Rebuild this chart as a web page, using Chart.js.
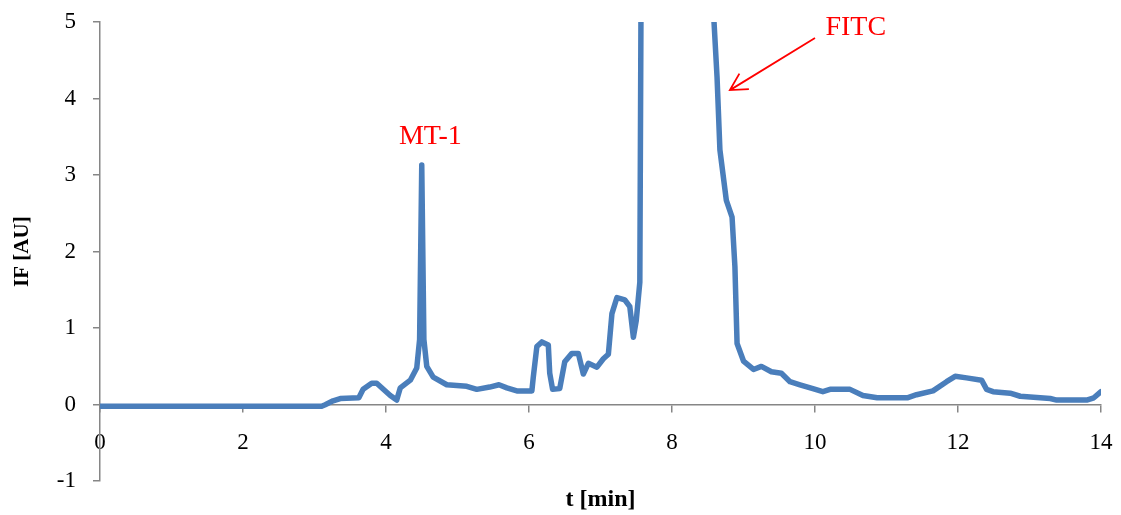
<!DOCTYPE html>
<html>
<head>
<meta charset="utf-8">
<script src="https://cdn.jsdelivr.net/npm/chart.js@4.4.0/dist/chart.umd.min.js"></script>
<style>
  html, body { margin: 0; padding: 0; background: #ffffff; }
  #wrap { width: 1121px; height: 515px; position: relative; }
</style>
</head>
<body>
<div id="wrap"><canvas id="c" width="1121" height="515"></canvas></div>
<script>
// Time (min)
const times = [0, 3.1, 3.15, 3.26, 3.36, 3.62, 3.68, 3.8, 3.87, 4.06, 4.15, 4.2, 4.34, 4.43, 4.47, 4.5, 4.53, 4.57, 4.66, 4.85,
  5.13, 5.27, 5.45, 5.58, 5.69, 5.83, 6.04, 6.06, 6.11, 6.18, 6.27, 6.29, 6.33, 6.43, 6.5, 6.6, 6.69, 6.76, 6.83, 6.95,
  7.04, 7.11, 7.16, 7.23, 7.34, 7.41, 7.46, 7.5, 7.55, 7.57, 8.0, 8.57, 8.63, 8.67, 8.76, 8.84, 8.88, 8.91, 9.0, 9.14,
  9.25, 9.39, 9.53, 9.65, 9.79, 9.97, 10.11, 10.21, 10.49, 10.67, 10.87, 11.29, 11.42, 11.65, 11.84, 11.96, 12.12, 12.33,
  12.4, 12.49, 12.73, 12.87, 13.29, 13.38, 13.8, 13.9, 14.0];
// Fluorescence intensity (AU)
const intensity = [-0.02, -0.02, 0.0, 0.05, 0.08, 0.09, 0.2, 0.28, 0.28, 0.12, 0.06, 0.22, 0.32, 0.48, 0.85, 3.13, 0.85, 0.5, 0.36, 0.26,
  0.24, 0.2, 0.23, 0.26, 0.22, 0.18, 0.18, 0.36, 0.76, 0.82, 0.78, 0.41, 0.2, 0.21, 0.56, 0.67, 0.67, 0.4, 0.54, 0.49,
  0.6, 0.66, 1.19, 1.4, 1.37, 1.28, 0.88, 1.1, 1.6, 6, 15, 5.3, 4.28, 3.33, 2.67, 2.45, 1.8, 0.8, 0.57, 0.46,
  0.5, 0.43, 0.41, 0.3, 0.26, 0.21, 0.17, 0.2, 0.2, 0.12, 0.09, 0.09, 0.13, 0.18, 0.3, 0.37, 0.35, 0.32,
  0.2, 0.17, 0.15, 0.11, 0.08, 0.06, 0.06, 0.09, 0.17];
const xTicks = [0, 2, 4, 6, 8, 10, 12, 14];
const yTicks = [-1, 0, 1, 2, 3, 4, 5];
const labels = [
  { text: 'MT-1', x: 4.62, y: 3.50 },
  { text: 'FITC', x: 10.57, y: 4.92 }
];
const arrow = { fromX: 10.0, fromY: 4.79, toX: 8.81, toY: 4.11 };

const points = times.map((t, i) => ({ x: t, y: intensity[i] }));
const axisGray = '#868686';
const serif = '"Liberation Serif", "Times New Roman", serif';

const annotate = {
  id: 'annotate',
  afterDatasetsDraw(chart) {
    const ctx = chart.ctx;
    const xs = chart.scales.x, ys = chart.scales.y;
    ctx.save();
    ctx.fillStyle = '#FF0000';
    ctx.font = '28px ' + serif;
    ctx.textAlign = 'center';
    ctx.textBaseline = 'middle';
    labels.forEach(l => ctx.fillText(l.text, xs.getPixelForValue(l.x), ys.getPixelForValue(l.y)));
    const x1 = xs.getPixelForValue(arrow.fromX), y1 = ys.getPixelForValue(arrow.fromY);
    const x2 = xs.getPixelForValue(arrow.toX), y2 = ys.getPixelForValue(arrow.toY);
    ctx.strokeStyle = '#FF0000';
    ctx.lineWidth = 1.8;
    ctx.beginPath();
    ctx.moveTo(x1, y1); ctx.lineTo(x2, y2);
    const ang = Math.atan2(y1 - y2, x1 - x2);
    const len = 19, spread = 0.5;
    ctx.moveTo(x2 + len * Math.cos(ang - spread), y2 + len * Math.sin(ang - spread));
    ctx.lineTo(x2, y2);
    ctx.lineTo(x2 + len * Math.cos(ang + spread), y2 + len * Math.sin(ang + spread));
    ctx.stroke();
    ctx.restore();
  }
};

new Chart(document.getElementById('c'), {
  type: 'line',
  data: {
    datasets: [{
      data: points,
      borderColor: '#4A7EBB',
      borderWidth: 5.5,
      pointRadius: 0,
      tension: 0,
      fill: false,
      borderJoinStyle: 'round',
      borderCapStyle: 'round'
    }]
  },
  options: {
    responsive: false,
    animation: false,
    layout: { padding: { top: 22, right: 20, left: 0, bottom: 0 } },
    plugins: {
      legend: { display: false },
      tooltip: { enabled: false },
      title: {
        display: true,
        position: 'bottom',
        fullSize: false,
        text: 't [min]',
        color: '#000',
        font: { family: serif, size: 24, weight: 'bold' },
        padding: { top: 4, bottom: 1 }
      }
    },
    scales: {
      x: {
        type: 'linear',
        position: { y: 0 },
        min: 0, max: 14,
        afterBuildTicks(s) { s.ticks = xTicks.map(v => ({ value: v })); },
        afterFit(s) { s.paddingLeft = 0; s.paddingRight = 0; },
        ticks: { color: '#000', font: { family: serif, size: 23 }, padding: 17, maxRotation: 0 },
        grid: { drawOnChartArea: false, drawTicks: true, tickLength: 7, color: axisGray, lineWidth: 1.5 },
        border: { color: axisGray, width: 1.5 }
      },
      y: {
        type: 'linear',
        position: 'left',
        min: -1, max: 5,
        afterBuildTicks(s) { s.ticks = yTicks.map(v => ({ value: v })); },
        afterFit(s) { s.width = 100; s.paddingTop = 0; s.paddingBottom = 0; },
        ticks: { color: '#000', font: { family: serif, size: 23 }, padding: 17 },
        grid: { drawOnChartArea: false, drawTicks: true, tickLength: 7, color: axisGray, lineWidth: 1.5 },
        border: { color: axisGray, width: 1.5 },
        title: {
          display: true,
          text: 'IF [AU]',
          color: '#000',
          font: { family: serif, size: 21, weight: 'bold' },
          padding: { top: 10, bottom: 0 }
        }
      }
    }
  },
  plugins: [annotate]
});
</script>
</body>
</html>
